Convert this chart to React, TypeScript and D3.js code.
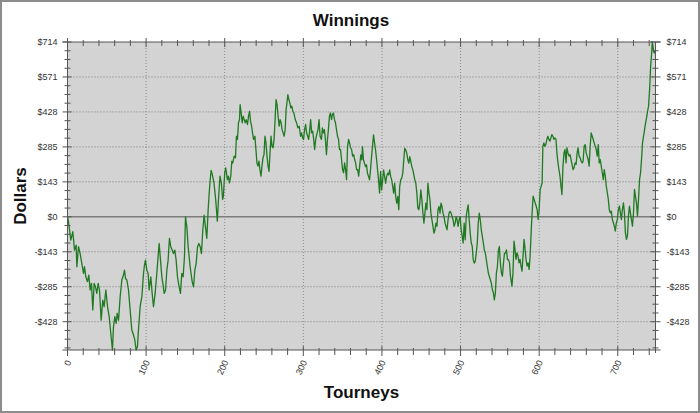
import React from 'react';
import * as d3 from 'd3';

const title = 'Winnings';
const xTitle = 'Tourneys';
const yTitle = 'Dollars';

const tourneys = [
  0, 1.3, 4.2, 6.8, 8.9, 11.0, 11.9, 14.0, 16.1, 18.2, 20.4, 21.6, 23.3, 25.4, 27.1, 28.8, 30.5, 32.2, 33.9, 35.6, 37.3, 39.0, 40.7, 42.8, 44.9, 46.6, 48.8, 50.9, 53.0, 55.5, 57.2, 58.5, 60.2, 61.9, 63.2, 64.9, 67.0, 69.1, 71.2, 72.5, 73.8, 75.5, 77.6, 79.7, 81.8, 84.0, 85.6, 87.3, 89.0, 90.3, 92.4, 94.6, 96.7, 97.9, 99.2, 100.9, 102.6, 103.9, 106.0, 107.7, 109.4, 111.5, 113.6, 114.9, 116.6, 118.3, 120.0, 121.3, 123.0, 124.7, 126.4, 128.0, 129.7, 131.4, 133.1, 134.8, 136.5, 138.2, 139.9, 142.0, 143.7, 145.4, 147.1, 148.8, 150.1, 151.8, 153.5, 156.0, 158.6, 160.3, 162.0, 163.7, 165.4, 167.1, 168.8, 170.4, 172.1, 173.8, 175.5, 177.2, 178.9, 180.2, 181.5, 182.7, 184.4,
  186.3, 188.5, 190.6, 192.3, 194.0, 195.7, 197.4, 198.3, 200.0, 201.3, 203.4, 204.7, 206.0, 207.7, 209.0, 210.2, 212.0, 213.7, 214.9, 216.2, 217.5, 218.8, 219.6, 220.9, 222.2, 223.5, 224.8, 226.0, 227.3, 229.0, 230.3, 231.6, 232.9, 234.2, 235.4, 236.7, 238.4, 239.7, 241.0, 242.3, 243.6, 244.8, 246.1, 247.4, 248.7, 250.0, 251.2, 252.5, 253.8, 255.1, 256.4, 257.6, 258.9, 260.2, 261.5, 262.8, 264.1, 265.3, 266.6, 267.9, 269.2, 270.5, 271.7, 273.0, 274.3, 275.6, 276.9, 278.1, 279.4, 280.3, 281.6, 282.8, 284.1, 285.4, 286.7, 288.0, 289.7, 291.4, 293.1, 294.8, 296.5, 297.8, 299.1, 300.3, 301.6, 302.9, 304.2, 305.5, 306.8, 308.0, 309.3, 310.6, 311.9, 313.2, 314.4, 315.7, 317.0, 318.7, 320.0, 321.3, 323.0, 324.3, 325.5, 326.8, 328.1, 329.4, 330.7, 331.9, 333.2, 334.5, 335.8, 337.1, 338.3, 339.6, 340.9, 342.2, 343.5, 344.8, 346.0, 347.3, 348.6, 349.9, 351.2, 352.5, 353.7, 355.0, 356.3, 357.6, 358.8, 360.1, 361.4, 362.7, 364.0, 365.3, 366.5, 367.8, 369.1, 370.4, 371.8,
  373.1, 374.4, 375.2, 376.5, 377.8, 379.1, 380.4, 381.6, 382.9, 384.2, 385.5, 386.8, 388.0, 389.3, 390.6, 391.9, 393.2, 394.4, 395.7, 397.0, 398.3, 399.6, 400.9, 402.1, 403.4, 404.7, 406.0, 407.3, 408.5, 409.8, 411.1, 412.4, 413.7, 414.9, 416.2, 417.5, 418.8, 420.1, 421.4, 422.6, 423.9, 425.2, 426.5, 427.8, 429.0, 430.3, 431.6, 432.9, 434.2, 435.4, 436.7, 438.0, 439.3, 440.6, 441.8, 443.1, 444.4, 445.7, 447.0, 448.2, 449.5, 450.8, 452.1, 453.4, 454.7, 455.9, 457.2, 458.5, 459.8, 461.1, 462.3, 463.6, 464.9, 466.2, 467.5, 468.7, 470.0, 471.3, 472.6, 473.9, 475.1, 476.4, 477.7, 479.0, 480.3, 481.5, 482.8, 484.1, 485.4, 486.7, 488.0, 489.2, 490.5, 491.8, 493.1, 494.4, 495.6, 496.9, 498.2, 499.5, 500.8, 502.1, 503.3, 504.6, 505.9, 507.2, 508.5, 509.7, 511.0, 512.3, 513.6, 514.9, 516.1, 517.4, 518.7, 520.0, 521.3, 522.5, 523.8, 525.1, 526.4, 527.7, 529.0, 530.2, 531.5, 532.8, 534.1, 535.4, 536.6, 537.9, 539.2, 540.5, 541.8, 543.0, 544.3, 545.6, 546.9, 548.2, 549.4, 550.7, 552.0, 553.3, 554.6, 555.9, 557.1, 558.4, 559.7, 561.0, 562.3, 563.5,
  565.4, 566.7, 568.0, 569.3, 570.5, 571.8, 573.1, 574.4, 575.7, 576.9, 578.2, 579.5, 580.8, 582.1, 583.3, 584.6, 585.9, 587.2, 588.5, 589.8, 591.0, 592.3, 593.6, 594.9, 596.2, 597.4, 598.7, 600.0, 601.3, 602.6, 603.8, 604.7, 606.0, 607.3, 608.5, 609.8, 611.1, 612.4, 613.7, 614.9, 616.2, 617.5, 618.8, 620.1, 621.4, 622.6, 623.9, 625.2, 626.5, 627.8, 629.0, 630.3, 631.6, 632.9, 634.2, 635.4, 636.7, 638.0, 639.3, 640.6, 641.8, 643.1, 644.4, 645.7, 647.0, 648.3, 649.5, 650.8, 652.1, 653.4, 654.7, 655.9, 657.2, 658.5, 659.8, 661.1, 662.3, 663.6, 664.9, 666.2, 667.5, 668.7, 670.0, 671.3, 672.6, 673.9, 675.2, 676.4, 677.7, 679.0, 680.3, 681.6, 682.8, 684.1, 685.4, 686.7, 688.0, 689.2, 690.5, 691.8, 693.1, 694.4, 695.6, 696.9, 698.2, 699.5, 700.8, 702.1, 703.3, 704.6, 705.9, 707.2, 708.5, 709.7, 711.0, 712.3, 713.6, 714.9, 716.1, 717.4, 718.7, 720.0, 721.3, 722.5, 723.8, 725.1, 726.4, 727.7, 729.0, 730.2, 731.5, 732.8, 734.1, 735.4, 736.6, 737.9, 739.2, 740.5, 741.8, 743.1, 743.9, 744.8, 745.6, 746.5, 747.2, 748.0,
];

const dollars = [
  0, -20, -95, -61, -136, -116, -204, -122, -150, -190, -231, -204, -245, -265, -238, -299, -272, -381, -272, -286, -313, -272, -299, -422, -340, -367, -299, -367, -408, -490, -544, -449, -408, -435, -394, -422, -326, -258, -238, -218, -252, -258, -299, -381, -462, -483, -503, -544, -530, -462, -367, -326, -231, -197, -177, -218, -231, -299, -245, -313, -367, -313, -231, -177, -109, -177, -245, -272, -313, -299, -218, -177, -88, -122, -136, -150, -136, -177, -245, -286, -313, -231, -245, -163, 0, -41, -122, -204, -265, -286, -218, -190, -122, -109, -122, -150, -54, 7, -41, -88, 27, 95, 150, 190, 170,
  139, 71, -18, 84, 166, 139, 71, 84, 180, 200, 152, 166, 139, 166, 227, 220, 248, 241, 329, 316, 384, 397, 458, 424, 384, 411, 397, 384, 397, 377, 411, 431, 390, 370, 343, 316, 329, 275, 220, 207, 227, 193, 166, 207, 241, 254, 329, 302, 248, 207, 186, 261, 329, 288, 282, 316, 397, 479, 458, 411, 370, 397, 384, 356, 343, 329, 356, 438, 472, 499, 479, 465, 445, 452, 431, 424, 397, 384, 363, 370, 329, 343, 322, 316, 356, 377, 343, 329, 316, 350, 397, 343, 350, 316, 275, 316, 336, 356, 397, 329, 316, 363, 343, 356, 316, 254, 316, 356, 411, 424, 397, 418, 424, 397, 384, 356, 329, 316, 275, 275, 234, 193, 180, 220, 193, 152, 288, 316, 302, 282, 275, 248, 254, 234, 220, 193, 193, 166, 212,
  253, 233, 287, 233, 219, 205, 212, 178, 165, 151, 192, 246, 287, 335, 301, 273, 233, 192, 151, 97, 185, 110, 151, 192, 165, 137, 165, 178, 171, 192, 165, 151, 124, 97, 137, 83, 56, 83, 29, 124, 151, 158, 178, 233, 280, 273, 260, 233, 219, 246, 226, 205, 192, 171, 151, 137, 97, 35, 29, 56, 110, 69, 15, -26, 15, 56, 29, 137, 97, 69, 15, -12, -39, -67, -53, -26, -39, 29, 42, 15, 56, 42, 15, 1, -26, -39, -53, -12, 15, 22, 15, 1, -12, -39, -26, 1, -12, -39, -12, 1, -53, -80, -107, -26, -94, 1, 29, 49, -12, -67, -107, -121, -175, -189, -182, -148, -107, -26, 15, -12, -53, -80, -107, -135, -148, -175, -203, -230, -243, -257, -271, -298, -311, -339, -311, -230, -203, -135, -121, -189, -230, -243, -189, -148, -148, -135, -175, -175, -189, -243,
  -283, -228, -99, -133, -174, -147, -160, -188, -174, -201, -222, -160, -92, -133, -174, -201, -188, -215, -160, -65, 16, 84, 71, 57, 44, 30, -11, 30, 112, 125, 139, 288, 302, 288, 295, 316, 329, 316, 309, 322, 336, 329, 316, 322, 316, 261, 220, 193, 166, 125, 91, 207, 261, 275, 220, 282, 261, 248, 254, 234, 214, 193, 200, 220, 214, 261, 282, 248, 241, 227, 220, 227, 288, 295, 261, 248, 234, 207, 288, 343, 329, 316, 302, 288, 275, 248, 295, 220, 234, 207, 180, 152, 193, 166, 125, 98, 71, 30, 16, 23, -11, -24, -38, -58, -24, -11, 30, 44, 16, -11, 30, 57, 16, -65, -92, -79, 3, 44, 16, -11, -38, 16, 112, 84, 57, 3, 71, 152, 180, 234, 302, 329, 356, 384, 404, 431, 452, 520, 615, 669, 714, 696, 676, 669, 676, 669,
];

const xDomain = [0, 748];
const yDomain = [-544, 714];
const xTickValues = [0, 100, 200, 300, 400, 500, 600, 700];
const xTickLabels = ['0', '100', '200', '300', '400', '500', '600', '700'];
const yTickValues = [714, 571.2, 428.4, 285.6, 142.8, 0, -142.8, -285.6, -428.4];
const yTickLabels = ['$714', '$571', '$428', '$285', '$143', '$0', '-$143', '-$285', '-$428'];

const FONT = '"Liberation Sans", Arial, Helvetica, sans-serif';

export default function App() {
  const left = 67.5, right = 655.5, top = 42, bottom = 350;
  const x = d3.scaleLinear().domain(xDomain).range([left, right]);
  const y = d3.scaleLinear().domain(yDomain).range([bottom, top]);
  const pts: [number, number][] = tourneys.map((t, i) => [t, dollars[i]]);
  const line = d3.line<[number, number]>().x(d => x(d[0])).y(d => y(d[1]));
  const xMinor = d3.range(20, 748, 20).filter(v => v % 100 !== 0);
  const yStep = 714 / 20;
  const yMinor = d3.range(-15, 20).filter(k => k % 4 !== 0).map(k => k * yStep).filter(v => v >= yDomain[0] && v <= yDomain[1]);
  const axisColor = '#555';

  return (
    <svg width={700} height={413} style={{ position: 'absolute', left: 0, top: 0, background: '#fff' }}>
      <rect x={1} y={1} width={698} height={411} fill="#fff" stroke="#8c8c8c" strokeWidth={2} />
      <rect x={left} y={top} width={right - left} height={bottom - top} fill="#d3d3d3" />
      {xTickValues.filter(v => v > 0).map(v => (
        <line key={'gx' + v} x1={x(v)} x2={x(v)} y1={top} y2={bottom} stroke="#8a8a8a" strokeWidth={1} strokeDasharray="1,2" />
      ))}
      {yTickValues.filter(v => v !== 0 && v !== 714).map(v => (
        <line key={'gy' + v} x1={left} x2={right} y1={y(v)} y2={y(v)} stroke="#7a7a7a" strokeWidth={1} strokeDasharray="1,2" />
      ))}
      <line x1={left} x2={right} y1={y(0)} y2={y(0)} stroke="#7c7c7c" strokeWidth={1.6} />
      <path d={line(pts) || ''} fill="none" stroke="#1f7a22" strokeWidth={1.3} strokeLinejoin="round" />
      {/* frame / axes */}
      <line x1={left} x2={left} y1={top} y2={bottom + 3} stroke={axisColor} />
      <line x1={right} x2={right} y1={top} y2={bottom + 3} stroke={axisColor} />
      <line x1={left - 5} x2={right + 5} y1={bottom} y2={bottom} stroke={axisColor} />
      <line x1={left - 5} x2={right + 5} y1={top} y2={top} stroke={axisColor} />
      {yTickValues.map(v => (
        <g key={'yt' + v}>
          <line x1={left - 5} x2={left + 4} y1={y(v)} y2={y(v)} stroke={axisColor} />
          <line x1={right - 5} x2={right + 5} y1={y(v)} y2={y(v)} stroke={axisColor} />
        </g>
      ))}
      {yMinor.map(v => (
        <g key={'ym' + v}>
          <line x1={left - 3} x2={left + 3} y1={y(v)} y2={y(v)} stroke={axisColor} />
          <line x1={right - 3} x2={right + 3} y1={y(v)} y2={y(v)} stroke={axisColor} />
        </g>
      ))}
      {xTickValues.map(v => (
        <g key={'xt' + v}>
          <line x1={x(v)} x2={x(v)} y1={bottom - 4} y2={bottom + 6} stroke={axisColor} />
          <line x1={x(v)} x2={x(v)} y1={top - 4} y2={top + 5} stroke={axisColor} />
        </g>
      ))}
      {xMinor.map(v => (
        <g key={'xm' + v}>
          <line x1={x(v)} x2={x(v)} y1={bottom - 2} y2={bottom + 5} stroke={axisColor} />
          <line x1={x(v)} x2={x(v)} y1={top - 2} y2={top + 4} stroke={axisColor} />
        </g>
      ))}
      {yTickValues.map((v, i) => (
        <g key={'yl' + v} fontFamily={FONT} fontSize={9} fill="#333">
          <text x={left - 10} y={y(v) + 3} textAnchor="end">{yTickLabels[i]}</text>
          <text x={right + 11} y={y(v) + 3} textAnchor="start">{yTickLabels[i]}</text>
        </g>
      ))}
      {xTickValues.map((v, i) => (
        <text key={'xl' + v} transform={`translate(${x(v) + 4},${bottom + 12}) rotate(-65)`} textAnchor="end"
          fontFamily={FONT} fontSize={9} fill="#333">{xTickLabels[i]}</text>
      ))}
      <text x={351} y={26} textAnchor="middle" fontFamily={FONT} fontSize={17} fontWeight="bold" fill="#111">{title}</text>
      <text x={(left + right) / 2} y={398} textAnchor="middle" fontFamily={FONT} fontSize={17} fontWeight="bold" fill="#111">{xTitle}</text>
      <text transform={`translate(26,${(top + bottom) / 2}) rotate(-90)`} textAnchor="middle" fontFamily={FONT} fontSize={17} fontWeight="bold" fill="#111">{yTitle}</text>
    </svg>
  );
}
